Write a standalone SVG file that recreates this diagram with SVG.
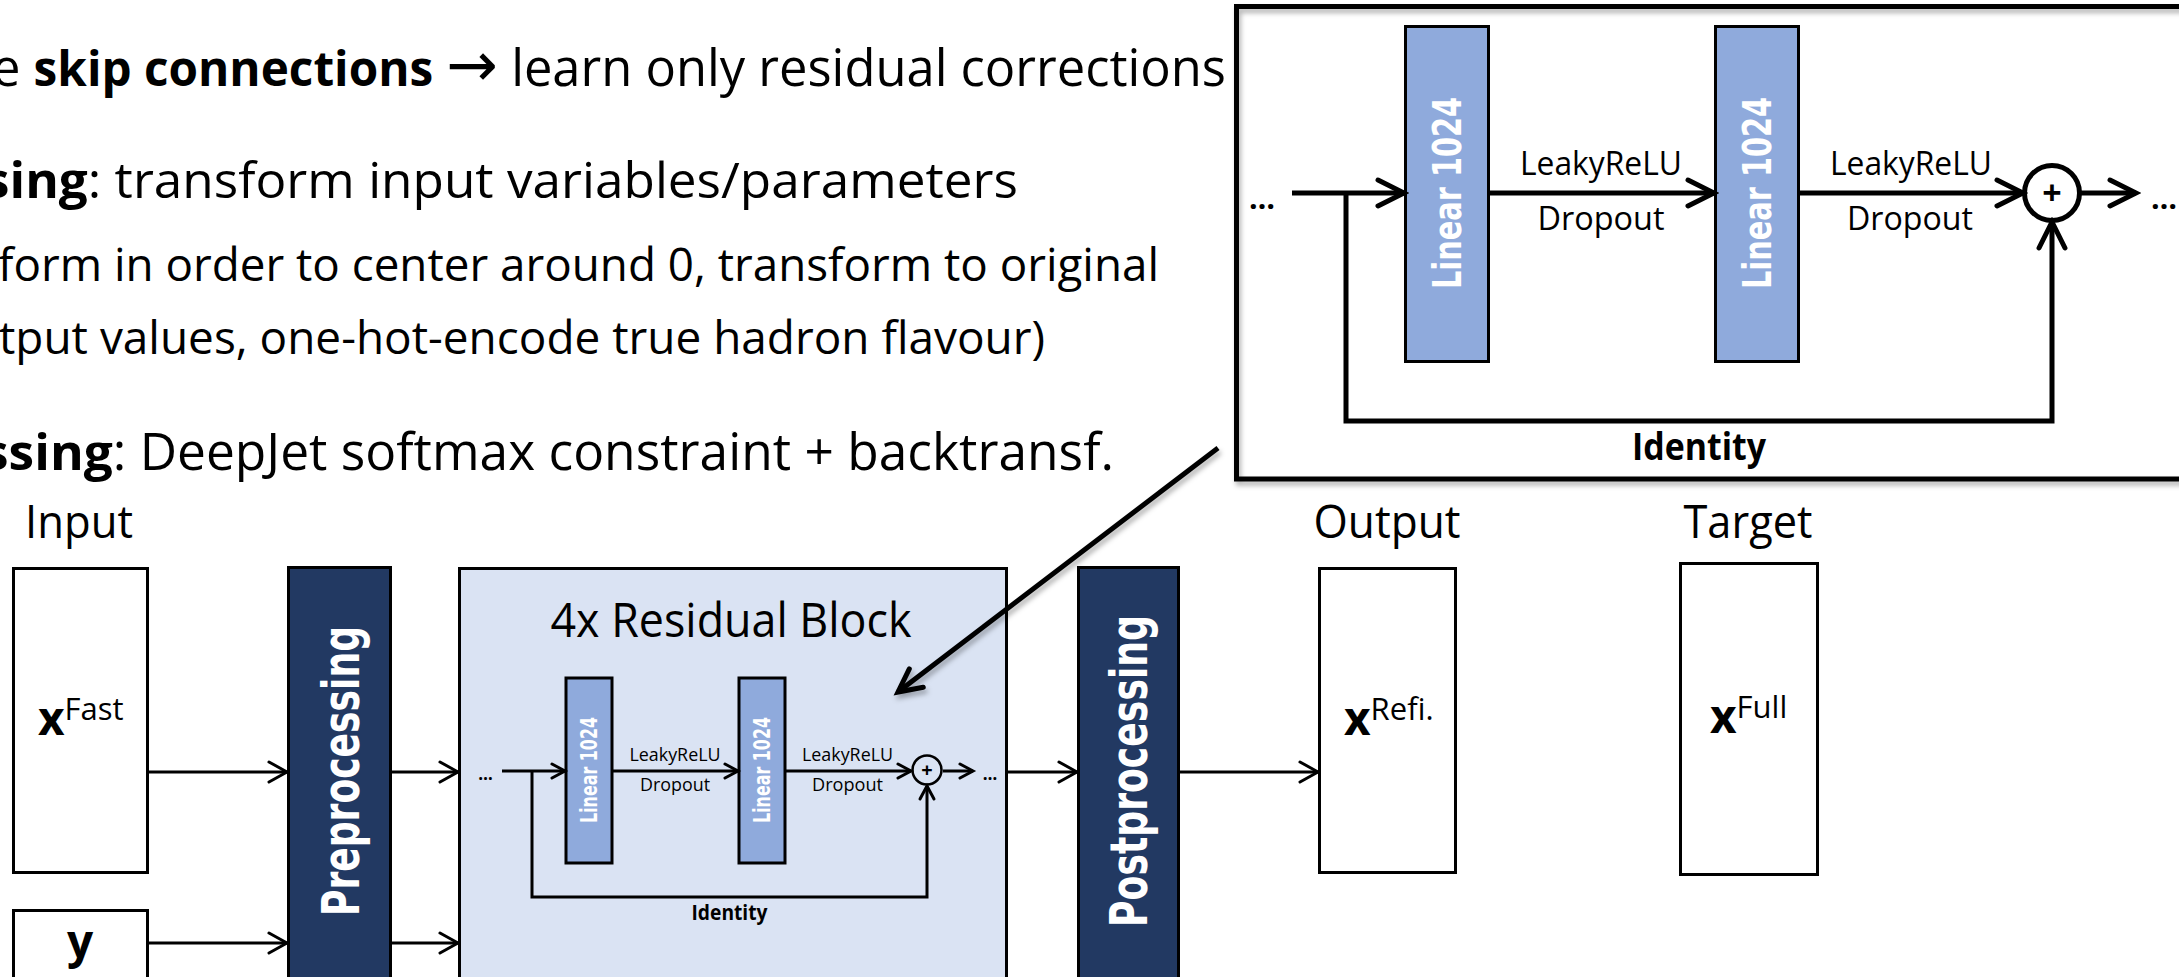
<svg xmlns="http://www.w3.org/2000/svg" width="2179" height="977" viewBox="0 0 2179 977">
<style>
.t{font-family:"Open Sans","Liberation Sans",sans-serif;fill:#000}
.b{font-weight:700}
.r{font-family:"DejaVu Sans","Liberation Sans",sans-serif;font-weight:700;fill:#fff}
.box{fill:#fff;stroke:#000;stroke-width:3}
.navy{fill:#223962;stroke:#000;stroke-width:3}
.lin{fill:#8FAADC;stroke:#000;stroke-width:3}
.c3{fill:none;stroke:#000;stroke-width:3}
.c5{fill:none;stroke:#000;stroke-width:5}
</style>
<defs>
<filter id="sh" x="-10%" y="-10%" width="120%" height="130%">
<feDropShadow dx="2" dy="4" stdDeviation="2.5" flood-color="#000" flood-opacity="0.3"/>
</filter>
<marker id="am" markerUnits="userSpaceOnUse" viewBox="0 0 24 24" markerWidth="24" markerHeight="24" refX="21" refY="12" orient="auto">
<path d="M3,2 L21,12 L3,22" fill="none" stroke="#000" stroke-width="3" stroke-linecap="round"/>
</marker>
<marker id="as" markerUnits="userSpaceOnUse" viewBox="0 0 20 20" markerWidth="20" markerHeight="20" refX="16" refY="10" orient="auto">
<path d="M3,3 L16,10 L3,17" fill="none" stroke="#000" stroke-width="3" stroke-linecap="round"/>
</marker>
<marker id="ai" markerUnits="userSpaceOnUse" viewBox="0 0 36 36" markerWidth="36" markerHeight="36" refX="31" refY="18" orient="auto">
<path d="M5,5 L31,18 L5,31" fill="none" stroke="#000" stroke-width="5" stroke-linecap="round"/>
</marker>
<marker id="ap" markerUnits="userSpaceOnUse" viewBox="0 0 34 34" markerWidth="34" markerHeight="34" refX="28" refY="17" orient="auto">
<path d="M5,5.5 L28,17 L5,28.5" fill="none" stroke="#000" stroke-width="5" stroke-linecap="round"/>
</marker>
</defs>
<rect width="2179" height="977" fill="#fff"/>

<g id="bullets">
<text class="t" x="-8" y="86" font-size="51" textLength="1234" lengthAdjust="spacingAndGlyphs">e <tspan class="b" font-size="48">skip connections</tspan> <tspan font-family="DejaVu Sans, sans-serif" font-size="62">→</tspan> learn only residual corrections</text>
<text class="t" x="-16" y="198" font-size="50" textLength="1034" lengthAdjust="spacingAndGlyphs"><tspan class="b">sing</tspan>: transform input variables/parameters</text>
<text class="t" x="-2" y="281" font-size="46" textLength="1161" lengthAdjust="spacingAndGlyphs">form in order to center around 0, transform to original</text>
<text class="t" x="-1" y="354" font-size="46" textLength="1046" lengthAdjust="spacingAndGlyphs">tput values, one-hot-encode true hadron flavour)</text>
<text class="t" x="-17" y="470" font-size="51" textLength="1131" lengthAdjust="spacingAndGlyphs"><tspan class="b">ssing</tspan>: DeepJet softmax constraint + backtransf.</text>
</g>

<g id="labels">
<text class="t" x="79" y="538" font-size="45" text-anchor="middle" textLength="108" lengthAdjust="spacingAndGlyphs">Input</text>
<text class="t" x="1387" y="538" font-size="45" text-anchor="middle" textLength="147" lengthAdjust="spacingAndGlyphs">Output</text>
<text class="t" x="1748" y="538" font-size="45" text-anchor="middle" textLength="129" lengthAdjust="spacingAndGlyphs">Target</text>
</g>

<g id="node-xfast">
<rect class="box" x="13.5" y="568.5" width="134" height="304"/>
<text class="t" x="38" y="735"><tspan class="b" font-size="46">x</tspan><tspan font-size="31" dy="-15">Fast</tspan></text>
</g>
<g id="node-y">
<rect class="box" x="13.5" y="910.5" width="134" height="80"/>
<text class="t b" x="80" y="958" font-size="46" text-anchor="middle">y</text>
</g>
<g id="node-preprocessing">
<rect class="navy" x="288.5" y="567.5" width="102" height="420"/>
<text class="r" font-size="52" text-anchor="middle" textLength="290" lengthAdjust="spacingAndGlyphs" transform="translate(359,771) rotate(-90)">Preprocessing</text>
</g>
<g id="node-residual">
<rect x="459.5" y="568.5" width="547" height="420" fill="#DAE3F3" stroke="#000" stroke-width="3"/>
<text class="t" x="731" y="637" font-size="48" text-anchor="middle" textLength="361" lengthAdjust="spacingAndGlyphs">4x Residual Block</text>
<rect class="lin" x="566" y="678" width="46" height="185" stroke-width="2"/>
<rect class="lin" x="739" y="678" width="46" height="185" stroke-width="2"/>
<text class="r" font-size="23" text-anchor="middle" textLength="106" lengthAdjust="spacingAndGlyphs" transform="translate(597,770) rotate(-90)">Linear 1024</text>
<text class="r" font-size="23" text-anchor="middle" textLength="106" lengthAdjust="spacingAndGlyphs" transform="translate(770,770) rotate(-90)">Linear 1024</text>
<text class="t" x="675" y="761" font-size="19" text-anchor="middle" textLength="91" lengthAdjust="spacingAndGlyphs">LeakyReLU</text>
<text class="t" x="675" y="791" font-size="19" text-anchor="middle" textLength="70" lengthAdjust="spacingAndGlyphs">Dropout</text>
<text class="t" x="847.5" y="761" font-size="19" text-anchor="middle" textLength="91" lengthAdjust="spacingAndGlyphs">LeakyReLU</text>
<text class="t" x="847.5" y="791" font-size="19" text-anchor="middle" textLength="71" lengthAdjust="spacingAndGlyphs">Dropout</text>
<text class="t b" x="729.5" y="920" font-size="21" text-anchor="middle" textLength="76" lengthAdjust="spacingAndGlyphs">Identity</text>
<text class="t b" x="485.5" y="780" font-size="17" text-anchor="middle">…</text>
<text class="t b" x="990" y="780" font-size="17" text-anchor="middle">…</text>
<circle cx="927" cy="770" r="14.5" fill="none" stroke="#000" stroke-width="2.5"/>
<text class="t b" x="927" y="777" font-size="20" text-anchor="middle">+</text>
</g>
<g id="node-postprocessing">
<rect class="navy" x="1078.5" y="567.5" width="100" height="420"/>
<text class="r" font-size="52" text-anchor="middle" textLength="312" lengthAdjust="spacingAndGlyphs" transform="translate(1147,771) rotate(-90)">Postprocessing</text>
</g>
<g id="node-output">
<rect class="box" x="1319.5" y="568.5" width="136" height="304"/>
<text class="t" x="1344" y="735"><tspan class="b" font-size="46">x</tspan><tspan font-size="31" dy="-15">Refi.</tspan></text>
</g>
<g id="node-target">
<rect class="box" x="1680.5" y="563.5" width="137" height="311"/>
<text class="t" x="1710" y="733"><tspan class="b" font-size="46">x</tspan><tspan font-size="31" dy="-15">Full</tspan></text>
</g>

<g id="inset-detail">
<rect x="1236.5" y="6.5" width="1000" height="472.5" fill="#fff"/>
<rect x="1236.5" y="6.5" width="1000" height="472.5" fill="none" stroke="#000" stroke-width="5" filter="url(#sh)"/>
<rect class="lin" x="1405.5" y="26.5" width="83" height="335"/>
<rect class="lin" x="1715.5" y="26.5" width="83" height="335"/>
<text class="r" font-size="39" text-anchor="middle" textLength="192" lengthAdjust="spacingAndGlyphs" transform="translate(1461,193) rotate(-90)">Linear 1024</text>
<text class="r" font-size="39" text-anchor="middle" textLength="192" lengthAdjust="spacingAndGlyphs" transform="translate(1771,193) rotate(-90)">Linear 1024</text>
<text class="t" x="1601" y="175" font-size="32" text-anchor="middle" textLength="162" lengthAdjust="spacingAndGlyphs">LeakyReLU</text>
<text class="t" x="1601" y="230" font-size="32" text-anchor="middle" textLength="127" lengthAdjust="spacingAndGlyphs">Dropout</text>
<text class="t" x="1911" y="175" font-size="32" text-anchor="middle" textLength="162" lengthAdjust="spacingAndGlyphs">LeakyReLU</text>
<text class="t" x="1910" y="230" font-size="32" text-anchor="middle" textLength="126" lengthAdjust="spacingAndGlyphs">Dropout</text>
<text class="t b" x="1699" y="460" font-size="37" text-anchor="middle" textLength="134" lengthAdjust="spacingAndGlyphs">Identity</text>
<text class="t b" x="1249" y="209" font-size="30" textLength="26" lengthAdjust="spacingAndGlyphs">…</text>
<text class="t b" x="2151" y="209" font-size="30" textLength="26" lengthAdjust="spacingAndGlyphs">…</text>
<circle cx="2052" cy="193" r="27.5" fill="#fff" stroke="#000" stroke-width="5"/>
<text class="t b" x="2052" y="205" font-size="34" text-anchor="middle">+</text>
</g>

<g id="connectors">
<path class="c3" d="M149,772 H287" marker-end="url(#am)"/>
<path class="c3" d="M149,943 H287" marker-end="url(#am)"/>
<path class="c3" d="M392,772 H458" marker-end="url(#am)"/>
<path class="c3" d="M392,943 H458" marker-end="url(#am)"/>
<path class="c3" d="M1008,772 H1077" marker-end="url(#am)"/>
<path class="c3" d="M1180,772 H1318" marker-end="url(#am)"/>
<path class="c3" d="M502,771 H565" marker-end="url(#as)"/>
<path class="c3" d="M532,771 V897 H927 V786" marker-end="url(#as)"/>
<path class="c3" d="M613,771 H738" marker-end="url(#as)"/>
<path class="c3" d="M785,771 H911" marker-end="url(#as)"/>
<path class="c3" d="M943,771 H973" marker-end="url(#as)"/>
<path class="c5" d="M1292,193 H1404" marker-end="url(#ai)"/>
<path class="c5" d="M1346,193 V421 H2052 V222" marker-end="url(#ai)"/>
<path class="c5" d="M1490,193 H1714" marker-end="url(#ai)"/>
<path class="c5" d="M1800,193 H2023" marker-end="url(#ai)"/>
<path class="c5" d="M2080,193 H2136" marker-end="url(#ai)"/>
<path d="M1218,448 L898,692" fill="none" stroke="#000" stroke-width="5" marker-end="url(#ap)" filter="url(#sh)"/>
</g>
</svg>
